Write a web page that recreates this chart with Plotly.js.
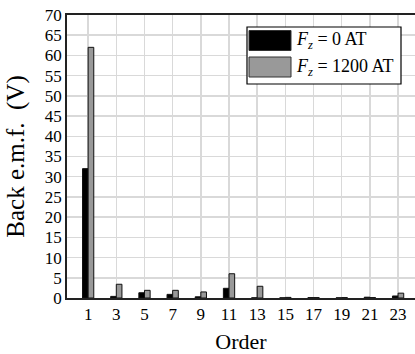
<!DOCTYPE html>
<html><head><meta charset="utf-8">
<script src="https://cdn.plot.ly/plotly-3.0.1.min.js"></script>
<style>body{margin:0;background:#fff}#c{width:415px;height:354px}</style>
</head><body><div id="c"></div>
<script>
const orders = [1,3,5,7,9,11,13,15,17,19,21,23];
const emf0 = [32,0.4,1.3,0.9,0.3,2.4,0.05,0.05,0.1,0.05,0.2,0.5];
const emf1200 = [62,3.4,1.9,1.9,1.5,6.0,2.9,0.15,0.1,0.1,0.1,1.2];
const names = ['<i>F<sub>z</sub></i> = 0 AT','<i>F<sub>z</sub></i> = 1200 AT'];
const colors = ['#000000','#999999'];
const font = 'Liberation Serif';
const traces = [emf0, emf1200].map((v,i)=>({
  type:'bar', x:orders, y:v, name:names[i],
  marker:{color:colors[i], line:{color:'#111', width:1}},
  showlegend:false
}));
const shapes=[], annotations=[];
shapes.push({type:'rect',xref:'paper',yref:'paper',x0:(247-67)/348,x1:(401-67)/348,y0:(298-84)/283,y1:(298-27)/283,line:{color:'#000',width:1.2},fillcolor:'#fff'});
names.forEach((n,i)=>{
  const yc = i===0?40.5:67;
  shapes.push({type:'rect',xref:'paper',yref:'paper',x0:(249-67)/348,x1:(291-67)/348,y0:(298-yc-10)/283,y1:(298-yc+10)/283,line:{color:'#333',width:1},fillcolor:colors[i]});
  annotations.push({xref:'paper',yref:'paper',x:(294-67)/348,y:(298-yc)/283,xanchor:'left',yanchor:'middle',text:n,showarrow:false,font:{family:font,size:18,color:'#000'}});
});
Plotly.newPlot('c', traces, {
  width:415, height:354,
  margin:{l:67,r:0,t:15,b:56},
  paper_bgcolor:'#fff', plot_bgcolor:'#fff',
  barmode:'group', bargap:0.6,
  font:{family:font,size:17,color:'#000'},
  xaxis:{range:[-0.5,24.2], tickvals:orders, ticktext:orders.map(String), showgrid:true, gridcolor:'#d9d9d9', gridwidth:1.5,
    showline:true, linecolor:'#222', linewidth:1.8, mirror:true, ticks:'', zeroline:false,
    title:{text:'Order', font:{family:font,size:22}, standoff:10}, tickfont:{family:font,size:17}},
  yaxis:{range:[0,70], dtick:5, showgrid:true, gridcolor:'#d9d9d9', gridwidth:1.5, showline:true, linecolor:'#222', linewidth:1.8,
    ticks:'', zeroline:false, title:{text:'Back e.m.f.  (V)', font:{family:font,size:25}, standoff:13}, tickfont:{family:font,size:17}},
  shapes:shapes, annotations:annotations
}, {staticPlot:true});
</script></body></html>
